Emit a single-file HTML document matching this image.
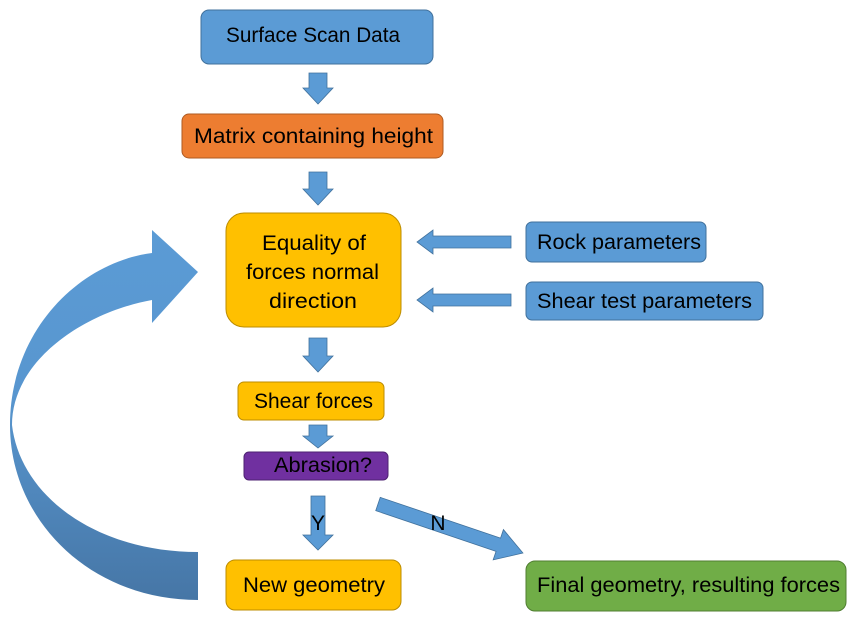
<!DOCTYPE html>
<html><head><meta charset="utf-8"><style>body{margin:0;background:#fff}svg{display:block}text{font-family:"Liberation Sans",sans-serif;font-size:21px;fill:#000}</style></head><body>
<svg width="856" height="626" viewBox="0 0 856 626">
<defs><linearGradient id="g" x1="0" y1="0" x2="0" y2="1"><stop offset="0" stop-color="#5B9BD5"/><stop offset="0.45" stop-color="#5896CF"/><stop offset="1" stop-color="#4676A6"/></linearGradient></defs>
<g stroke="#41719C" stroke-width="1">
<rect x="201" y="10" width="232" height="54" rx="8" fill="#5B9BD5"/>
<rect x="182" y="114" width="261" height="44" rx="7" fill="#ED7D31" stroke="#AE5A21"/>
<rect x="226" y="213" width="175" height="114" rx="18" fill="#FFC000" stroke="#BC8C00"/>
<rect x="526" y="222" width="180" height="40" rx="6" fill="#5B9BD5"/>
<rect x="526" y="282" width="237" height="38" rx="6" fill="#5B9BD5"/>
<rect x="238" y="382" width="146" height="38" rx="6" fill="#FFC000" stroke="#BC8C00"/>
<rect x="244" y="452" width="144" height="28" rx="5" fill="#7030A0" stroke="#4E2272"/>
<rect x="226" y="560" width="175" height="50" rx="9" fill="#FFC000" stroke="#BC8C00"/>
<rect x="526" y="561" width="320" height="50" rx="9" fill="#70AD47" stroke="#507E32"/>
</g>
<g fill="#5B9BD5" stroke="#41719C" stroke-width="0.8">
<polygon points="309,73 327,73 327,88 333,88 318,104 303,88 309,88"/>
<polygon points="309,172 327,172 327,189 333,189 318,205 303,189 309,189"/>
<polygon points="309,338 327,338 327,356 333,356 318,372 303,356 309,356"/>
<polygon points="309,425 327,425 327,436 333,436 318,448 303,436 309,436"/>
<polygon points="311,496 325,496 325,535 333,535 318,550 303,535 311,535"/>
<polygon points="511,236 433,236 433,230 417,242 433,254 433,248 511,248"/>
<polygon points="511,294 433,294 433,288 417,300 433,312 433,306 511,306"/>
<g transform="translate(378,504) rotate(18.7)"><polygon points="0,-7 127,-7 127,-16 153,0 127,16 127,7 0,7"/></g>
</g>
<path d="M198,600 C90,600 10,520 10,425 C10,330 80,262 152,253 L152,230 L198,272 L152,323 L152,300 C85,312 12,360 12,425 C20,495 95,552 198,552 Z" fill="url(#g)"/>
<g lengthAdjust="spacingAndGlyphs">
<text x="226" y="42" textLength="174" lengthAdjust="spacingAndGlyphs">Surface Scan Data</text>
<text x="194" y="143" textLength="239" lengthAdjust="spacingAndGlyphs">Matrix containing height</text>
<text x="262" y="250" textLength="104" lengthAdjust="spacingAndGlyphs">Equality of</text>
<text x="246" y="279" textLength="133" lengthAdjust="spacingAndGlyphs">forces normal</text>
<text x="269" y="308" textLength="88" lengthAdjust="spacingAndGlyphs">direction</text>
<text x="537" y="249" textLength="164" lengthAdjust="spacingAndGlyphs">Rock parameters</text>
<text x="537" y="308" textLength="215" lengthAdjust="spacingAndGlyphs">Shear test parameters</text>
<text x="254" y="408" textLength="119" lengthAdjust="spacingAndGlyphs">Shear forces</text>
<text x="274" y="472" textLength="98" lengthAdjust="spacingAndGlyphs">Abrasion?</text>
<text x="318" y="530" text-anchor="middle" font-size="18">Y</text>
<text x="438" y="530" text-anchor="middle" font-size="18">N</text>
<text x="243" y="592" textLength="142" lengthAdjust="spacingAndGlyphs">New geometry</text>
<text x="537" y="592" textLength="303" lengthAdjust="spacingAndGlyphs">Final geometry, resulting forces</text>
</g>
</svg>
</body></html>
